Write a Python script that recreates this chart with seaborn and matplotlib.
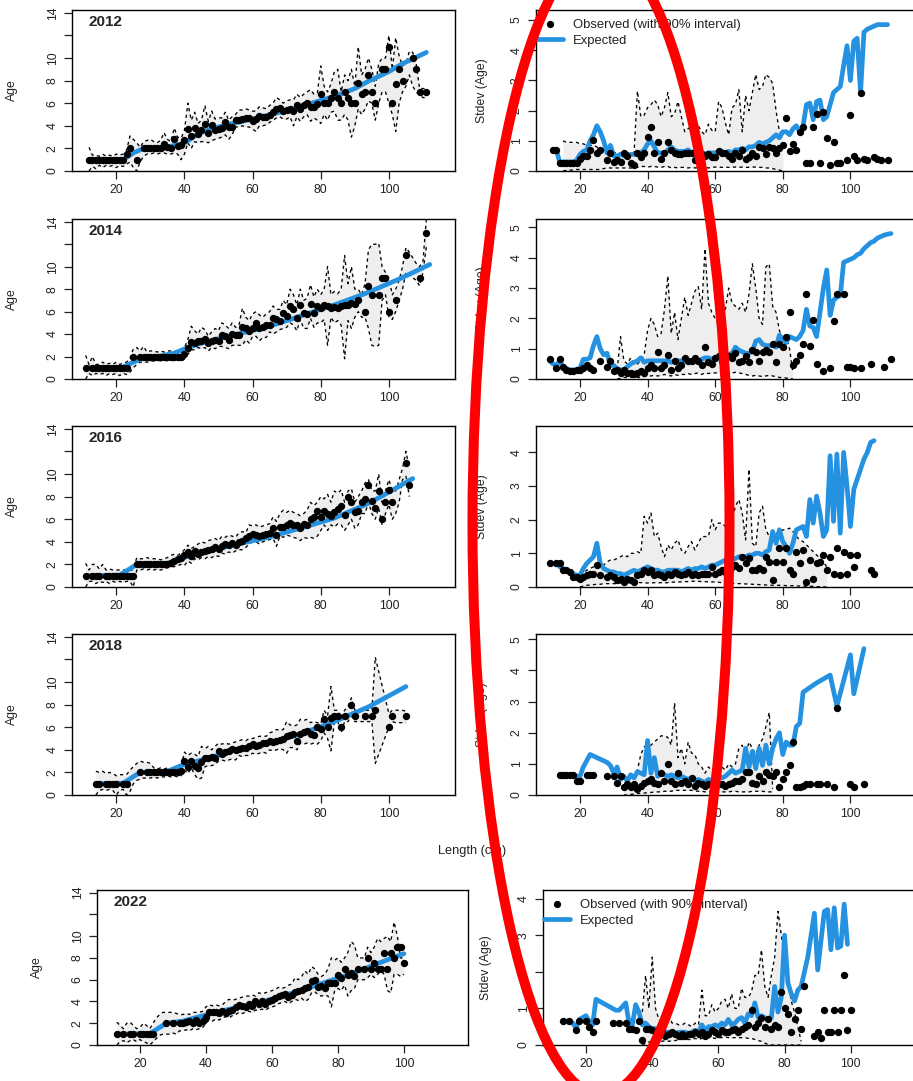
import numpy as np
import pandas as pd
import matplotlib
matplotlib.use("Agg")
import matplotlib.pyplot as plt
from matplotlib.lines import Line2D
from matplotlib.patches import Ellipse
import seaborn as sns

NA = np.nan

# ------------------------------------------------------------------ 2012
len_2012 = list(range(12, 112))
age_obs_2012 = [
    1, 1, 1, 1, 1, 1, 1, 1, 1, 1,                      # 12-21
    1, 1.5, 2, NA, 1, NA, 2, 2, 2, 2,                  # 22-31
    2, 2, 2.4, 2.1, 2, 2.8, 2.25, 2.3, 2.7, 3.7,       # 32-41
    3.1, 3.8, 3.3, 3.6, 4.2, 3.4, 4.1, 3.6, 3.7, 3.8,  # 42-51
    4.3, 3.9, 3.9, 4.5, 4.5, 4.6, 4.7, 4.7, 4.4, 4.6,  # 52-61
    4.9, 4.8, 4.8, 5.0, 5.2, 5.5, 5.6, 5.3, 5.4, 5.5,  # 62-71
    5.3, 5.8, 5.5, 5.8, 6.0, 5.7, 5.7, 5.9, 6.8, 6.0,  # 72-81
    6.0, 6.5, 7.0, 6.5, 6.0, 7.0, 6.5, 6.0, 6.0, 7.8,  # 82-91
    6.8, 7.0, 8.5, 7.0, 6.0, NA, 9.0, 9.0, 11.0, 6.0,  # 92-101
    7.7, 9.0, 8.0, NA, NA, 10.0, 9.0, 7.0, NA, 7.0,    # 102-111
]
age_lo_2012 = [
    0.0, 0.4, 0.2, 0.5, 0.3, 0.5, 0.4, 0.5, 0.3, 0.5,
    0.4, 0.6, 0.8, 0.3, 0.0, 0.8, 1.3, 1.5, 1.5, 1.6,
    1.5, 1.6, 1.6, 1.5, 1.5, 1.6, 1.5, 1.0, 1.5, 2.5,
    2.0, 2.6, 2.5, 2.6, 2.6, 2.5, 2.7, 2.8, 2.9, 3.0,
    3.2, 2.8, 3.2, 3.9, 3.9, 4.0, 3.9, 3.9, 3.7, 3.5,
    4.0, 4.0, 4.1, 4.3, 4.5, 4.7, 4.8, 4.6, 4.6, 4.8,
    4.0, 4.8, 4.4, 4.8, 5.0, 4.4, 4.7, 4.5, 4.2, 5.0,
    4.5, 5.2, 5.3, 4.5, 4.5, 5.0, 4.5, 3.0, 4.0, 5.5,
    5.0, 5.5, 6.2, 6.0, 4.5, 6.0, 7.0, 7.0, 6.0, 5.0,
    3.5, 6.0, 7.0, 7.5, 8.5, 7.5, 7.0, 6.7, 6.5, 6.5,
]
age_hi_2012 = [
    2.1, 1.4, 1.4, 1.3, 1.5, 1.3, 1.4, 1.3, 1.5, 1.4,
    1.5, 1.8, 3.1, 2.8, 2.5, 2.1, 2.6, 2.7, 2.8, 2.6,
    2.5, 2.7, 3.4, 2.8, 2.6, 3.8, 3.0, 2.9, 3.6, 6.0,
    4.5, 5.2, 4.2, 4.5, 5.8, 4.4, 5.3, 4.6, 4.7, 4.7,
    5.2, 4.5, 4.8, 5.0, 5.4, 5.4, 5.5, 5.4, 5.3, 5.3,
    5.7, 5.6, 5.5, 5.8, 6.0, 6.5, 6.3, 6.0, 6.2, 6.3,
    6.3, 6.8, 6.5, 6.8, 7.0, 7.2, 6.8, 6.9, 9.3, 7.5,
    7.0, 7.7, 8.8, 9.0, 7.0, 8.5, 8.0, 9.0, 7.5, 11.0,
    8.5, 9.0, 10.0, 9.0, 7.5, 9.5, 10.0, 10.0, 12.0, 9.0,
    11.8, 10.2, 9.3, 9.5, 10.6, 10.5, 9.5, 7.3, 7.3, 7.3,
]
age_exp_len_2012 = [12, 22, 25, 28, 32, 36, 40, 44, 48, 54, 60, 64, 70, 74, 80, 84, 90, 94, 100, 104, 111]
age_exp_2012 = [1, 1, 1.6, 2.0, 2.05, 2.2, 2.45, 3.3, 3.75, 4.2, 4.6, 4.9, 5.35, 5.7, 6.25, 6.6, 7.3, 7.95, 8.8, 9.5, 10.5]
sd_obs_2012 = [
    0.7, 0.7, 0.28, 0.25, 0.25, 0.25, 0.25, 0.25, 0.4, 0.5,
    0.5, 0.7, 1.02, 0.6, 0.7, NA, 0.35, 0.6, 0.3, 0.35,
    0.3, 0.6, 0.5, 0.25, 0.2, 0.6, 0.45, 0.6, 1.12, 1.45,
    0.6, 0.95, 0.4, 0.6, 0.95, 0.7, 0.6, 0.55, 0.55, 0.6,
    0.6, 0.6, 0.35, 0.55, 0.55, 0.5, 0.55, 0.45, 0.45, 0.65,
    0.6, 0.6, 0.5, 0.4, 0.6, 0.5, 0.7, 0.4, 0.45, 0.6,
    0.5, 0.8, 0.75, 0.55, 0.8, 0.75, 0.6, 0.75, 0.85, 1.74,
    0.65, 0.9, 0.7, 1.3, 1.45, 0.25, 0.25, 1.45, 1.88, 0.25,
    1.95, 1.1, 0.2, 0.95, 0.25, 0.25, NA, 0.35, 1.85, 0.5,
    0.35, 2.6, 0.4, 0.35, NA, 0.45, 0.4, 0.35, NA, 0.35,
]
sd_exp_2012 = [
    NA, 0.7, 0.3, 0.3, 0.3, 0.3, 0.3, 0.35, 0.55, 0.65,
    0.7, 1.0, 1.2, 1.5, 1.3, 1.0, 0.6, 0.85, 0.5, 0.5,
    0.55, 0.5, 0.5, 0.55, 0.55, 0.6, 0.6, 0.7, 0.9, 1.0,
    0.8, 0.6, 0.6, 0.55, 0.7, 0.8, 0.7, 0.65, 0.65, 0.65,
    0.7, 0.6, 0.6, 0.6, 0.6, 0.55, 0.6, 0.6, 0.6, 0.65,
    0.65, 0.6, 0.65, 0.6, 0.7, 0.7, 0.75, 0.7, 0.8, 0.8,
    0.85, 0.95, 0.9, 0.95, 1.0, 1.1, 1.2, 1.1, 1.3, 1.3,
    1.2, 1.4, 1.5, 1.3, 1.5, 2.2, 2.25, 1.7, 2.3, 2.35,
    1.7, 1.8, 2.2, 2.6, 2.7, 2.8, 3.5, 4.15, 3.0, 4.3,
    4.4, 2.6, 4.6, 4.7, 4.75, 4.8, 4.85, 4.85, 4.85, 4.85,
]
sd_band_len_2012 = list(range(15, 81))
sd_lo_2012 = [
    0.0, 0.02, 0.03, 0.03, 0.05, 0.05, 0.05, 0.05, 0.05, 0.05,
    0.05, 0.05, 0.08, 0.1, 0.1, 0.1, 0.1, 0.1, 0.1, 0.1,
    0.1, 0.1, 0.12, 0.15, 0.15, 0.13, 0.15, 0.15, 0.13, 0.12,
    0.15, 0.15, 0.1, 0.12, 0.1, 0.12, 0.12, 0.1, 0.12, 0.1,
    0.12, 0.1, 0.12, 0.1, 0.12, 0.13, 0.13, 0.12, 0.13, 0.12,
    0.13, 0.13, 0.12, 0.13, 0.12, 0.12, 0.13, 0.13, 0.12, 0.12,
    0.1, 0.1, 0.08, 0.05, 0.03, 0.0,
]
sd_hi_2012 = [
    1.0, 0.95, 0.95, 0.95, 0.95, 0.9, 0.9, 0.85, 0.85, 0.85,
    0.8, 0.7, 0.65, 0.6, 0.6, 0.6, 0.6, 0.6, 0.6, 0.6,
    0.6, 0.6, 2.65, 1.8, 1.85, 2.1, 2.2, 2.35, 2.2, 1.8,
    2.1, 2.6, 1.8, 1.9, 2.3, 1.8, 1.3, 1.4, 1.5, 1.7,
    1.5, 1.3, 1.2, 1.55, 1.35, 1.3, 2.3, 2.1, 1.6, 1.2,
    2.1, 2.2, 2.7, 1.3, 2.5, 2.0, 2.6, 3.2, 2.7, 2.8,
    3.2, 3.1, 2.9, 2.0, 1.3, 1.2,
]

# ------------------------------------------------------------------ 2014
len_2014 = list(range(11, 113))
age_obs_2014 = [
    1, NA, 1, 1, 1, 1, 1, 1, 1, 1,                     # 11-20
    1, 1, 1, NA, 2, NA, 2, 2, 2, 2,                    # 21-30
    2, 2, 2, 2, 2, 2, 2, 2, 2, 2.2,                    # 31-40
    2.8, 3.3, 3.2, 3.4, 3.4, 3.6, 3.2, 3.4, 3.5, 3.4,  # 41-50
    3.9, 3.8, 3.5, 4.0, 3.9, 3.9, 4.6, 4.5, 4.3, 4.5,  # 51-60
    5.0, 4.5, 4.6, 4.8, 4.8, 5.4, 5.3, 5.2, 5.9, 5.6,  # 61-70
    6.5, 6.2, 5.4, 6.6, 5.9, 5.8, 6.7, 5.9, 6.5, 6.3,  # 71-80
    6.6, 6.5, 6.3, 6.4, 6.3, 6.5, 6.6, 6.6, 6.8, 6.7,  # 81-90
    7.0, NA, 6.0, 8.3, 7.5, NA, 7.5, 9.0, 9.0, 6.0,    # 91-100
    NA, 7.0, NA, NA, 11.0, NA, NA, NA, 9.0, NA,        # 101-110
    13.0, NA,                                          # 111-112
]
age_lo_2014 = [
    0.0, 0.5, 0.3, 0.5, 0.4, 0.5, 0.3, 0.5, 0.4, 0.5,
    0.3, 0.5, 0.4, 0.6, 1.0, 1.3, 1.5, 1.5, 1.5, 1.6,
    1.6, 1.7, 1.6, 1.7, 1.6, 1.7, 1.6, 1.7, 1.6, 1.8,
    2.2, 2.6, 2.6, 2.8, 2.7, 2.8, 2.5, 2.8, 2.7, 2.9,
    2.9, 2.8, 2.7, 3.0, 3.0, 3.0, 3.0, 3.5, 3.2, 3.8,
    3.8, 3.4, 3.7, 3.7, 4.2, 4.0, 4.2, 4.4, 4.5, 4.6,
    5.0, 4.8, 4.3, 5.3, 4.5, 4.5, 5.4, 4.6, 5.0, 5.0,
    5.3, 3.0, 5.5, 5.0, 5.2, 4.8, 1.8, 5.2, 4.5, 5.5,
    6.0, 5.5, 5.5, 4.5, 3.0, 2.9, 3.0, 7.0, 7.5, 5.5,
    5.3, 6.0, 7.0, 8.0, 9.5, 9.3, 9.0, 8.8, 8.3, 9.5,
    11.8, NA,
]
age_hi_2014 = [
    2.1, 1.3, 2.0, 1.3, 1.3, 1.5, 1.3, 1.4, 1.3, 1.5,
    1.3, 1.4, 1.5, 1.8, 2.7, 2.8, 2.5, 2.9, 2.4, 2.5,
    2.5, 2.4, 2.5, 2.4, 2.5, 2.5, 2.5, 2.4, 2.5, 2.8,
    3.5, 4.7, 4.3, 4.0, 4.6, 4.4, 3.8, 4.2, 4.5, 4.3,
    5.0, 4.8, 4.5, 5.0, 4.6, 4.8, 6.3, 5.5, 5.2, 5.8,
    6.0, 5.7, 5.5, 5.8, 6.0, 6.5, 6.2, 6.2, 7.0, 6.6,
    8.0, 7.5, 6.6, 8.0, 7.0, 7.2, 8.4, 7.3, 8.0, 7.5,
    8.0, 10.0, 7.5, 7.8, 7.6, 8.0, 11.0, 8.5, 10.0, 8.0,
    8.0, 7.5, 8.5, 11.5, 12.0, 12.0, 12.1, 10.0, 9.5, 9.0,
    7.5, 8.0, 8.8, 10.0, 11.7, 11.3, 10.8, 10.3, 10.0, 10.5,
    14.3, NA,
]
age_exp_len_2014 = [11, 22, 25, 28, 33, 37, 41, 45, 54, 64, 74, 84, 93, 103, 112]
age_exp_2014 = [1, 1.05, 1.5, 1.9, 2.05, 2.3, 2.8, 3.2, 3.9, 4.6, 5.6, 6.6, 7.6, 8.9, 10.2]
sd_obs_2014 = [
    0.65, NA, 0.35, 0.65, 0.4, 0.3, 0.25, 0.25, 0.3, 0.3,
    0.35, 0.45, 0.35, 0.3, NA, 0.6, NA, 0.4, 0.6, 0.25,
    0.3, 0.2, 0.3, 0.2, 0.2, 0.15, 0.2, 0.25, 0.2, 0.35,
    0.45, 0.35, 0.9, 0.35, 0.45, 0.8, 0.3, 0.6, 0.35, 0.45,
    0.7, 0.6, 0.6, 0.7, 0.6, 0.45, 1.05, 0.55, 0.5, 0.7,
    0.75, 0.6, 0.7, 0.75, 0.7, 0.85, 0.55, 0.6, 0.75, 0.55,
    0.95, 0.9, 0.6, 0.9, 0.95, 0.9, 1.15, 0.55, 1.15, 1.05,
    1.4, 2.2, 0.45, 0.6, 0.8, 1.15, 2.8, 1.1, 1.95, 0.5,
    NA, 0.25, NA, 0.35, 1.9, 2.8, NA, 2.8, 0.4, 0.4,
    0.35, NA, 0.35, NA, NA, 0.5, NA, NA, NA, 0.4,
    NA, 0.65,
]
sd_exp_2014 = [
    0.6, 0.5, 0.45, 0.6, 0.4, 0.35, 0.3, 0.3, 0.3, 0.35,
    0.65, 0.65, 0.7, 1.1, 1.4, 1.0, 0.8, 0.85, 0.45, 0.45,
    0.35, 0.3, 0.3, 0.4, 0.5, 0.55, 0.6, 0.7, 0.55, 0.6,
    0.6, 0.6, 0.6, 0.6, 0.6, 0.6, 0.55, 0.6, 0.6, 0.6,
    0.6, 0.6, 0.6, 0.65, 0.6, 0.65, 0.7, 0.7, 0.65, 0.7,
    0.75, 0.75, 0.75, 0.8, 0.85, 1.05, 0.95, 0.9, 0.85, 0.85,
    0.9, 1.25, 1.3, 1.15, 1.1, 1.1, 1.1, 1.05, 1.45, 1.3,
    1.2, 1.4, 1.35, 1.3, 1.4, 1.6, 2.3, 1.75, 1.7, 1.4,
    2.2, 3.0, 3.6, 2.1, 2.6, 2.7, 2.75, 3.85, 3.9, 3.95,
    4.0, 4.1, 4.15, 4.3, 4.4, 4.5, 4.55, 4.65, 4.7, 4.75,
    4.78, 4.8,
]
sd_band_len_2014 = list(range(31, 84))
sd_lo_2014 = [
    0.0, 0.02, 0.05, 0.05, 0.05, 0.05, 0.05, 0.05, 0.08, 0.1,
    0.1, 0.12, 0.1, 0.12, 0.15, 0.12, 0.1, 0.15, 0.12, 0.15,
    0.15, 0.18, 0.15, 0.18, 0.2, 0.15, 0.2, 0.18, 0.2, 0.2,
    0.2, 0.25, 0.25, 0.2, 0.2, 0.22, 0.2, 0.18, 0.15, 0.12,
    0.1, 0.12, 0.1, 0.08, 0.1, 0.12, 0.1, 0.08, 0.05, 0.05,
    0.03, 0.02, 0.0,
]
sd_hi_2014 = [
    0.3, 1.4, 0.6, 0.5, 0.7, 0.5, 0.5, 0.6, 0.8, 1.6,
    2.0, 1.8, 1.4, 1.5, 2.3, 3.4, 1.5, 2.2, 1.3, 2.0,
    2.7, 2.1, 2.5, 2.9, 3.05, 2.3, 4.3, 2.5, 2.2, 2.0,
    1.8, 2.0, 2.3, 3.0, 2.5, 2.4, 2.3, 2.5, 2.2, 2.8,
    3.8, 3.0, 2.0, 1.8, 3.7, 3.8, 2.4, 2.2, 1.6, 1.3,
    1.4, 1.0, 0.2,
]

# ------------------------------------------------------------------ 2016
len_2016 = list(range(11, 108))
age_obs_2016 = [
    1, NA, 1, 1, 1, NA, 1, 1, 1, 1,                    # 11-20
    1, 1, 1, 1, 1, 2, 2, 2, 2, 2,                      # 21-30
    2, 2, 2, 2, 2, 2.1, 2.3, 2.5, 2.6, 2.8,            # 31-40
    3.1, 2.7, 3.2, 2.9, 3.1, 3.2, 3.3, 3.4, 3.5, 3.4,  # 41-50
    3.6, 3.8, 3.7, 3.9, 3.7, 4.0, 4.1, 4.3, 4.5, 4.7,  # 51-60
    4.6, 4.5, 4.6, 4.7, 4.8, 5.2, 4.6, 5.3, 5.3, 5.5,  # 61-70
    5.7, 5.5, 5.5, 5.2, 5.6, 5.5, 6.0, 6.2, 6.7, 6.2,  # 71-80
    6.7, 6.5, 6.3, 6.6, 6.9, 7.2, 6.4, 8.0, 7.5, 6.6,  # 81-90
    6.7, 7.5, 7.8, 9.0, 7.6, 7.0, 8.5, 6.0, 7.5, 8.6,  # 91-100
    7.5, NA, NA, NA, 11.0, 9.0, NA,                    # 101-107
]
age_lo_2016 = [
    0.0, 0.5, 0.5, 0.3, 0.5, 0.4, 0.5, 0.3, 0.5, 0.4,
    0.5, 0.4, 0.5, 0.5, 0.0, 1.5, 1.5, 1.6, 1.5, 1.6,
    1.5, 1.6, 1.5, 1.6, 1.7, 1.8, 1.8, 1.9, 2.0, 1.9,
    2.3, 2.1, 2.5, 2.4, 2.6, 2.5, 2.7, 2.6, 2.8, 2.7,
    3.0, 2.9, 3.1, 3.0, 3.2, 3.3, 3.3, 3.5, 3.8, 4.0,
    4.0, 3.8, 4.0, 4.1, 4.2, 4.3, 3.6, 4.5, 4.4, 4.6,
    4.5, 4.4, 4.3, 4.1, 4.4, 4.3, 4.4, 4.3, 4.5, 5.0,
    5.5, 5.0, 5.5, 5.3, 5.6, 5.5, 5.0, 5.5, 6.0, 5.2,
    5.5, 6.5, 6.5, 7.5, 6.5, 6.0, 7.0, 5.5, 6.5, 7.3,
    6.0, 6.5, 7.5, 9.5, 9.8, 8.0, NA,
]
age_hi_2016 = [
    2.1, 1.5, 2.0, 2.0, 1.6, 2.0, 1.5, 1.6, 1.5, 1.5,
    1.5, 1.5, 1.5, 1.5, 1.5, 2.6, 2.5, 2.5, 2.6, 2.5,
    2.5, 2.5, 2.4, 2.5, 2.6, 2.8, 2.9, 2.8, 3.0, 3.3,
    3.7, 3.4, 3.6, 3.8, 4.0, 3.9, 4.1, 4.2, 4.3, 4.1,
    4.5, 4.4, 4.6, 4.5, 4.4, 4.8, 4.9, 4.8, 5.5, 5.4,
    5.5, 5.3, 5.4, 5.5, 5.6, 6.2, 5.8, 6.5, 6.8, 6.6,
    6.8, 6.6, 6.5, 6.3, 6.5, 6.8, 7.5, 7.2, 7.5, 8.0,
    7.8, 8.2, 7.5, 8.5, 8.3, 8.6, 7.5, 8.5, 8.7, 7.5,
    8.0, 8.5, 9.2, 9.5, 8.5, 8.5, 10.0, 7.5, 8.5, 9.5,
    8.5, 8.5, 9.5, 10.5, 12.0, 10.5, NA,
]
age_exp_len_2016 = [11, 21, 26, 35, 39, 45, 54, 64, 74, 84, 94, 100, 107]
age_exp_2016 = [1, 1.05, 2.0, 2.1, 2.55, 3.0, 3.7, 4.35, 5.2, 6.1, 7.4, 8.4, 9.6]
sd_obs_2016 = [
    0.7, NA, 0.7, 0.7, 0.5, 0.5, 0.45, 0.3, 0.3, 0.25,
    0.3, 0.35, 0.4, 0.4, 0.65, 0.35, NA, 0.3, 0.35, 0.3,
    0.2, 0.25, 0.15, 0.25, 0.2, 0.15, 0.35, 0.4, 0.5, 0.45,
    0.5, 0.35, 0.4, 0.35, 0.3, 0.4, 0.35, 0.45, 0.4, 0.35,
    0.4, 0.45, 0.35, 0.4, 0.35, 0.4, 0.4, 0.4, 0.6, 0.4,
    0.45, 0.5, 0.45, 0.45, 0.6, 0.65, 0.55, 0.9, 0.7, 0.85,
    0.5, 0.5, 0.55, 0.5, 0.9, 0.75, 0.2, 0.75, 1.15, 0.75,
    1.15, 0.5, 0.4, 1.05, 0.7, 1.1, 0.15, 0.8, 0.25, 0.7,
    0.75, 0.95, 0.5, 0.9, 0.4, 1.15, 0.35, 1.05, 0.4, 0.95,
    0.6, 0.95, NA, NA, NA, 0.5, 0.4,
]
sd_exp_2016 = [
    NA, NA, NA, 0.6, 0.55, 0.5, 0.45, 0.4, 0.35, 0.35,
    0.55, 0.7, 0.8, 0.9, 1.3, 0.7, 0.55, 0.5, 0.45, 0.45,
    0.4, 0.4, 0.35, 0.4, 0.45, 0.5, 0.45, 0.5, 0.55, 0.6,
    0.55, 0.5, 0.5, 0.45, 0.45, 0.5, 0.5, 0.5, 0.5, 0.45,
    0.5, 0.55, 0.5, 0.55, 0.55, 0.6, 0.55, 0.6, 0.65, 0.65,
    0.7, 0.75, 0.8, 0.8, 0.8, 0.85, 0.9, 0.9, 0.9, 0.95,
    0.95, 1.0, 1.0, 0.95, 1.05, 1.1, 1.65, 1.3, 1.7, 1.35,
    1.2, 1.0, 1.3, 1.7, 1.75, 1.8, 1.5, 2.6, 1.9, 2.7,
    2.2, 1.5, 1.7, 3.9, 1.95, 3.95, 1.6, 4.0, 3.0, 1.8,
    2.9, 3.2, 3.5, 3.8, 4.0, 4.3, 4.35,
]
sd_band_len_2016 = list(range(20, 94))
sd_lo_2016 = [
    0.0, 0.03, 0.05, 0.06, 0.07, 0.08, 0.08, 0.1, 0.1, 0.1,
    0.1, 0.1, 0.12, 0.12, 0.12, 0.13, 0.14, 0.14, 0.13, 0.12,
    0.12, 0.12, 0.13, 0.12, 0.13, 0.12, 0.13, 0.14, 0.15, 0.15,
    0.15, 0.16, 0.16, 0.17, 0.17, 0.17, 0.16, 0.16, 0.15, 0.15,
    0.15, 0.14, 0.13, 0.12, 0.12, 0.11, 0.1, 0.1, 0.1, 0.09,
    0.09, 0.08, 0.08, 0.07, 0.07, 0.06, 0.06, 0.05, 0.05, 0.05,
    0.05, 0.04, 0.04, 0.04, 0.03, 0.03, 0.03, 0.02, 0.02, 0.02,
    0.01, 0.01, 0.0, 0.0,
]
sd_hi_2016 = [
    0.35, 0.4, 0.5, 0.55, 0.6, 0.65, 0.6, 0.65, 0.75, 0.8,
    0.8, 0.85, 0.9, 0.95, 0.9, 1.0, 1.0, 1.05, 1.0, 2.1,
    1.9, 2.2, 1.5, 1.6, 1.2, 0.9, 1.25, 1.1, 1.3, 1.4,
    1.1, 1.0, 1.2, 1.35, 1.1, 1.3, 1.5, 1.5, 1.5, 2.0,
    1.7, 1.9, 1.9, 1.8, 1.6, 2.0, 2.4, 2.6, 2.2, 1.4,
    3.5, 1.3, 1.2, 2.2, 2.4, 1.7, 1.5, 1.5, 1.6, 1.6,
    1.7, 1.7, 1.75, 1.65, 1.5, 1.4, 1.35, 1.25, 1.15, 1.05,
    0.95, 0.85, 0.75, 0.6,
]

# ------------------------------------------------------------------ 2018
len_2018 = list(range(14, 106))
age_obs_2018 = [
    1, 1, NA, 1, 1, 1, 1, NA, 1, 1,                    # 14-23
    NA, NA, NA, 2, NA, 2, 2, 2, 2, 2,                  # 24-33
    2, 2, 2, 2, 2, 2.1, 3.0, 2.5, 3.0, 2.6,            # 34-43
    2.4, 2.9, 3.3, 3.3, 3.4, 3.3, 3.9, 3.6, 3.8, 3.9,  # 44-53
    4.1, 4.0, 4.1, 4.2, 4.2, 4.3, 4.5, 4.3, 4.4, 4.6,  # 54-63
    4.6, 4.8, 4.7, 4.8, 4.9, 5.0, 5.2, 5.3, 5.4, 4.8,  # 64-73
    5.4, 5.6, 5.7, 5.4, 5.3, 6.0, 5.8, 6.7, 6.0, 6.8,  # 74-83
    7.0, 7.0, 6.0, 7.0, NA, 8.0, 7.0, NA, NA, 7.0,     # 84-93
    NA, 7.0, 7.5, NA, NA, NA, 6.0, 7.0, NA, NA,        # 94-103
    NA, 7.0,                                           # 104-105
]
age_lo_2018 = [
    0.0, 0.4, 0.5, 0.4, 0.5, 0.4, 0.0, 0.4, 0.5, 0.0,
    0.3, 1.0, 1.3, 1.4, 1.5, 1.5, 1.5, 1.6, 1.5, 1.6,
    1.6, 1.7, 1.6, 1.7, 1.6, 1.7, 2.2, 1.9, 2.4, 1.8,
    1.4, 1.5, 2.5, 2.6, 2.6, 2.7, 3.0, 3.1, 3.0, 3.1,
    3.2, 3.1, 3.5, 3.4, 3.5, 3.5, 3.7, 3.6, 3.7, 3.8,
    3.7, 4.0, 3.9, 4.0, 4.1, 4.0, 3.7, 4.2, 4.2, 4.0,
    4.6, 4.5, 4.6, 4.5, 4.6, 4.5, 4.8, 5.5, 5.0, 3.9,
    6.5, 6.5, 5.5, 6.5, 6.5, 7.0, 6.5, 6.5, 6.5, 6.5,
    6.5, 6.5, 2.8, NA, NA, NA, 6.0, 6.5, 6.4, 6.4,
    6.4, 6.4,
]
age_hi_2018 = [
    2.1, 2.0, 2.1, 1.9, 2.0, 1.9, 1.7, 1.8, 1.8, 1.8,
    2.2, 2.5, 2.8, 3.0, 2.9, 2.9, 2.8, 2.4, 2.3, 2.4,
    2.3, 2.4, 2.3, 2.4, 2.3, 2.5, 3.8, 3.5, 3.7, 3.6,
    3.4, 4.3, 4.1, 4.3, 4.0, 4.3, 4.6, 4.5, 4.6, 4.5,
    4.6, 4.7, 4.8, 4.9, 4.8, 5.0, 5.0, 5.1, 5.2, 5.2,
    5.2, 5.5, 5.6, 5.8, 5.7, 5.8, 6.5, 6.2, 6.1, 6.2,
    6.7, 6.6, 6.7, 6.4, 6.5, 6.4, 6.3, 7.5, 7.0, 9.6,
    7.5, 7.5, 6.8, 7.5, 7.8, 8.6, 7.5, 7.5, 7.5, 7.5,
    7.5, 7.5, 12.2, NA, NA, NA, 7.2, 7.5, 7.5, 7.5,
    7.5, 7.4,
]
age_exp_len_2018 = [14, 22, 27, 35, 39, 45, 54, 64, 74, 84, 94, 105]
age_exp_2018 = [1, 1.05, 2.0, 2.1, 2.6, 3.1, 3.9, 4.5, 5.4, 6.5, 7.8, 9.6]
sd_obs_2018 = [
    0.65, 0.65, 0.65, 0.65, 0.65, 0.45, 0.45, NA, 0.65, 0.65,
    0.65, NA, NA, NA, 0.6, NA, 0.6, 0.4, 0.6, 0.25,
    0.35, 0.25, 0.35, 0.2, 0.3, 0.4, 0.45, 0.5, 0.4, 0.35,
    0.7, 0.45, 1.0, 0.45, 0.35, 0.7, 0.4, 0.45, 0.35, 0.55,
    0.3, 0.4, 0.35, 0.3, 0.35, 0.35, 0.4, 0.35, 0.35, 0.3,
    0.35, 0.4, 0.45, 0.45, 0.5, 0.75, 0.75, 0.4, 0.35, 0.6,
    0.45, 0.75, 0.65, 0.6, 0.75, 0.25, 0.5, 0.75, 0.95, 1.7,
    0.25, 0.25, 0.3, 0.35, 0.35, NA, 0.35, 0.35, NA, 0.35,
    NA, 0.25, 2.8, NA, NA, NA, 0.35, 0.25, NA, NA,
    0.35, NA,
]
sd_exp_2018 = [
    0.65, 0.65, 0.65, 0.65, 0.65, 0.6, 0.6, 0.9, 1.1, 1.3,
    1.25, 1.2, 1.15, 1.1, 1.05, 0.95, 0.7, 0.9, 0.5, 0.6,
    0.45, 0.65, 0.55, 0.75, 0.7, 0.65, 1.75, 0.7, 1.2, 0.6,
    0.7, 0.65, 0.6, 0.65, 0.6, 0.55, 0.6, 0.55, 0.5, 0.55,
    0.45, 0.5, 0.45, 0.4, 0.5, 0.45, 0.5, 0.6, 0.55, 0.6,
    0.7, 0.8, 0.7, 0.75, 0.8, 1.5, 0.9, 1.4, 0.85, 1.5,
    0.95, 1.6, 1.0, 1.5, 1.8, 2.0, 1.3, 1.7, 1.6, 1.6,
    2.2, 2.3, 3.3, NA, NA, NA, 3.6, NA, NA, NA,
    3.85, NA, 2.85, NA, NA, NA, 4.5, 3.25, NA, NA,
    4.7, NA,
]
sd_band_len_2018 = list(range(33, 78))
sd_lo_2018 = [
    0.0, 0.0, 0.02, 0.03, 0.05, 0.05, 0.06, 0.08, 0.08, 0.1,
    0.1, 0.1, 0.12, 0.12, 0.12, 0.15, 0.15, 0.15, 0.15, 0.15,
    0.15, 0.13, 0.12, 0.12, 0.1, 0.1, 0.1, 0.1, 0.1, 0.1,
    0.1, 0.1, 0.12, 0.12, 0.1, 0.1, 0.1, 0.1, 0.12, 0.12,
    0.12, 0.12, 0.1, 0.1, 0.1,
]
sd_hi_2018 = [
    0.3, 0.4, 0.6, 0.6, 0.8, 1.3, 1.55, 1.55, 1.6, 1.7,
    1.8, 1.9, 1.9, 1.85, 1.6, 2.95, 1.2, 1.5, 1.0, 1.7,
    1.35, 1.3, 1.0, 0.9, 0.7, 0.9, 0.8, 0.9, 1.0, 0.9,
    0.8, 1.0, 0.9, 1.0, 1.5, 1.6, 1.3, 1.7, 1.5, 1.3,
    1.6, 1.8, 2.2, 2.65, 0.2,
]

# ------------------------------------------------------------------ 2022
len_2022 = list(range(13, 101))
age_obs_2022 = [
    1, NA, 1, NA, 1, 1, NA, 1, 1, 1,                   # 13-22
    1, 1, NA, NA, NA, 2, NA, 2, NA, 2,                 # 23-32
    2, 2.1, 2.2, 2.0, 2.3, 2.0, 2.2, 2.6, 3.0, 3.0,    # 33-42
    3.0, 2.9, 3.1, 2.9, 3.1, 3.2, 3.5, 3.7, 3.6, 3.5,  # 43-52
    3.8, 3.6, 4.0, 3.8, 4.0, 3.8, 4.0, 4.1, 4.3, 4.5,  # 53-62
    4.6, 4.7, 4.4, 4.6, 4.9, 5.0, 5.1, 5.2, 5.3, 5.9,  # 63-72
    6.0, 5.3, 5.4, 5.2, 5.7, 5.7, 5.7, 6.4, 6.2, 7.0,  # 73-82
    6.4, 6.6, 6.3, 7.0, NA, 7.0, 8.0, 7.0, 7.5, 7.0,   # 83-92
    7.0, 8.5, 7.0, 8.5, 8.0, 9.0, 9.0, 7.5,            # 93-100
]
age_lo_2022 = [
    0.0, 0.3, 0.4, 0.2, 0.4, 0.5, 0.3, 0.5, 0.3, 0.2,
    0.0, 0.3, 0.6, 0.9, 1.0, 1.0, 1.0, 1.1, 1.0, 1.3,
    1.3, 1.4, 1.3, 1.5, 1.4, 1.5, 1.6, 2.0, 2.3, 2.2,
    2.4, 2.3, 2.5, 2.6, 2.5, 2.7, 2.8, 3.0, 2.9, 3.0,
    3.1, 3.0, 3.2, 3.2, 3.3, 3.2, 3.4, 3.5, 3.6, 3.8,
    3.9, 4.0, 3.8, 4.0, 4.2, 4.1, 4.3, 4.0, 4.2, 4.8,
    4.9, 4.6, 4.5, 4.6, 4.5, 3.5, 5.0, 5.2, 5.0, 5.5,
    4.5, 5.0, 5.2, 6.0, 6.0, 6.0, 6.2, 6.5, 6.2, 6.5,
    6.8, 6.5, 5.0, 4.8, 6.5, 6.5, 6.3, 6.5,
]
age_hi_2022 = [
    2.1, 1.8, 1.5, 2.0, 2.1, 1.8, 1.5, 1.6, 2.0, 1.8,
    1.5, 2.0, 2.5, 2.8, 3.0, 3.0, 3.0, 3.0, 2.9, 2.8,
    2.8, 2.9, 2.8, 3.0, 3.0, 3.0, 3.1, 3.5, 3.7, 3.6,
    3.7, 3.6, 3.7, 4.0, 4.2, 4.1, 4.2, 4.3, 4.4, 4.5,
    4.5, 4.6, 4.5, 4.8, 4.7, 4.8, 4.9, 5.0, 5.1, 5.3,
    5.2, 5.3, 5.5, 5.6, 6.2, 6.0, 6.3, 6.8, 6.5, 7.2,
    7.0, 6.5, 6.3, 6.5, 7.0, 8.0, 7.8, 8.0, 7.6, 8.0,
    8.5, 9.5, 9.2, 8.0, 8.0, 8.0, 9.0, 8.5, 9.0, 9.8,
    9.5, 9.8, 10.0, 9.5, 11.3, 10.0, 8.0, 8.0,
]
age_exp_len_2022 = [13, 23, 28, 33, 38, 43, 48, 53, 58, 63, 68, 73, 78, 83, 88, 93, 100]
age_exp_2022 = [1, 1.05, 2.0, 2.2, 2.6, 3.0, 3.35, 3.7, 4.05, 4.5, 4.95, 5.45, 5.95, 6.45, 7.0, 7.6, 8.4]
sd_obs_2022 = [
    0.65, NA, 0.65, NA, 0.4, 0.65, NA, 0.65, 0.5, 0.35,
    0.65, NA, NA, NA, NA, 0.6, NA, 0.6, NA, 0.6,
    0.45, 0.45, 0.4, 0.65, 0.15, 0.45, 0.45, 0.4, 0.35, 0.3,
    0.35, 0.25, 0.3, 0.35, 0.3, 0.25, 0.3, 0.25, 0.3, 0.3,
    0.35, 0.3, 0.35, 0.25, 0.3, 0.4, 0.35, 0.3, 0.4, 0.35,
    0.35, 0.4, 0.45, 0.35, 0.45, 0.5, 0.55, 0.95, 0.5, 0.6,
    0.75, 0.5, 0.7, 0.45, 0.55, 0.5, 1.45, 1.0, 0.85, 0.35,
    0.7, 0.95, 0.45, 1.6, NA, NA, 0.25, 0.35, 0.2, 0.95,
    0.35, 0.35, 0.95, 0.35, 0.95, 1.9, 0.4, 0.95,
]
sd_exp_2022 = [
    0.65, 0.65, 0.65, 0.6, 0.45, 0.7, 0.75, 0.8, 0.65, 0.55,
    1.25, 1.2, 1.15, 1.1, 1.05, 1.0, 0.95, 0.95, 1.05, 1.15,
    0.6, 0.55, 1.1, 0.9, 0.55, 0.6, 0.5, 0.45, 0.45, 0.4,
    0.4, 0.35, 0.35, 0.35, 0.3, 0.35, 0.35, 0.35, 0.3, 0.35,
    0.4, 0.35, 0.55, 0.4, 0.5, 0.5, 0.55, 0.5, 0.6, 0.55,
    0.7, 0.55, 0.6, 0.7, 0.75, 0.6, 0.85, 0.8, 1.15, 0.75,
    0.8, 0.75, 0.7, 0.75, 1.6, 0.9, 1.3, 3.0, 1.7, 1.4,
    1.2, 1.5, 1.6, 2.0, 2.4, NA, 3.6, 2.05, NA, 3.65,
    3.7, 2.6, 3.75, 2.65, 2.7, 3.85, 2.75, NA,
]
sd_band_len_2022 = list(range(37, 86))
sd_lo_2022 = [
    0.0, 0.05, 0.08, 0.1, 0.1, 0.12, 0.1, 0.12, 0.1, 0.12,
    0.12, 0.15, 0.15, 0.15, 0.15, 0.15, 0.18, 0.15, 0.18, 0.2,
    0.2, 0.2, 0.18, 0.2, 0.2, 0.22, 0.2, 0.2, 0.2, 0.2,
    0.2, 0.2, 0.18, 0.18, 0.15, 0.12, 0.1, 0.05, 0.02, 0.0,
    0.0, 0.0, 0.0, 0.0, 0.0, 0.0, 0.0, 0.0, 0.0,
]
sd_hi_2022 = [
    0.9, 1.9, 1.0, 2.4, 1.0, 0.7, 0.6, 0.5, 0.8, 0.6,
    0.6, 0.55, 0.55, 0.6, 0.55, 0.5, 0.6, 0.55, 1.5, 0.8,
    0.8, 1.1, 0.9, 1.0, 1.2, 1.25, 1.0, 1.4, 1.0, 1.0,
    1.55, 1.3, 1.3, 1.45, 1.9, 1.9, 2.6, 1.6, 1.3, 1.9,
    2.4, 3.65, 3.0, 2.4, 1.8, 1.2, 0.9, 0.5, 0.1,
]

years = ["2012", "2014", "2016", "2018", "2022"]
age_tick_values = [0, 2, 4, 6, 8, 10, 12, 14]
age_tick_labels = ["0", "2", "4", "6", "8", "10", "", "14"]
length_ticks = [20, 40, 60, 80, 100]
legend_labels = ["Observed (with 90% interval)", "Expected"]

# ------------------------------------------------------------------ style
sns.set_style("ticks")
plt.rcParams["font.family"] = ["Liberation Sans", "DejaVu Sans"]

BLUE = "#2592E1"
BAND = "#EEEEEE"
DASH = (0, (2.5, 2.5))
FS = 8.8
INK = "#222222"

W, H = 913, 1081
fig = plt.figure(figsize=(W / 100, H / 100), dpi=100)


def px_axes(x0, y0, x1, y1):
    return fig.add_axes([x0 / W, 1 - y1 / H, (x1 - x0) / W, (y1 - y0) / H])


def draw_band(ax, L, lo, hi):
    df = pd.DataFrame({"len": L, "lo": lo, "hi": hi})
    both = df.dropna()
    ax.fill_between(both["len"], both["lo"], both["hi"], color=BAND, lw=0, zorder=1)
    for col in ("lo", "hi"):
        d = df[["len", col]].dropna()
        sns.lineplot(data=d, x="len", y=col, ax=ax, color="black", lw=0.95,
                     linestyle=DASH, estimator=None, sort=True, zorder=2)


def draw_expected(ax, L, vals):
    d = pd.DataFrame({"len": L, "v": vals}).dropna()
    sns.lineplot(data=d, x="len", y="v", ax=ax, color=BLUE, lw=3.4,
                 estimator=None, sort=True, zorder=3)


def draw_points(ax, L, vals):
    d = pd.DataFrame({"len": L, "v": vals}).dropna()
    sns.scatterplot(data=d, x="len", y="v", ax=ax, color="black", s=28,
                    linewidth=0, zorder=4)


def finish(ax, ylim, yticks, ylabels, ylab, ylab_x):
    ax.set_xlim(7, 119.4)
    ax.set_ylim(*ylim)
    ax.set_xticks(length_ticks)
    ax.set_xticklabels([str(t) for t in length_ticks])
    ax.set_yticks(yticks)
    ax.set_yticklabels(ylabels, rotation=90, va="center")
    ax.tick_params(direction="out", length=5.5, width=0.9, labelsize=FS,
                   pad=4, color=INK, labelcolor=INK)
    ax.set_xlabel("")
    ax.set_ylabel(ylab, fontsize=FS, color=INK)
    ax.yaxis.set_label_coords(ylab_x, 0.5)
    for s in ax.spines.values():
        s.set_visible(True)
        s.set_linewidth(1.0)
        s.set_color("black")


def add_legend(ax, top_frac):
    handles = [
        Line2D([], [], marker="o", color="black", ls="none", markersize=4.2),
        Line2D([], [], color=BLUE, lw=3.4),
    ]
    ax.legend(handles, legend_labels, loc="upper left",
              bbox_to_anchor=(0.0, top_frac), frameon=False, fontsize=9.4,
              handlelength=2.0, handletextpad=0.75, labelspacing=0.25,
              borderaxespad=0.0, borderpad=0.1, labelcolor=INK)


panel_data = {
    "2012": (len_2012, age_obs_2012, age_lo_2012, age_hi_2012, age_exp_len_2012, age_exp_2012,
             sd_obs_2012, sd_exp_2012, sd_band_len_2012, sd_lo_2012, sd_hi_2012),
    "2014": (len_2014, age_obs_2014, age_lo_2014, age_hi_2014, age_exp_len_2014, age_exp_2014,
             sd_obs_2014, sd_exp_2014, sd_band_len_2014, sd_lo_2014, sd_hi_2014),
    "2016": (len_2016, age_obs_2016, age_lo_2016, age_hi_2016, age_exp_len_2016, age_exp_2016,
             sd_obs_2016, sd_exp_2016, sd_band_len_2016, sd_lo_2016, sd_hi_2016),
    "2018": (len_2018, age_obs_2018, age_lo_2018, age_hi_2018, age_exp_len_2018, age_exp_2018,
             sd_obs_2018, sd_exp_2018, sd_band_len_2018, sd_lo_2018, sd_hi_2018),
    "2022": (len_2022, age_obs_2022, age_lo_2022, age_hi_2022, age_exp_len_2022, age_exp_2022,
             sd_obs_2022, sd_exp_2022, sd_band_len_2022, sd_lo_2022, sd_hi_2022),
}

# pixel boxes (x0, y0, x1, y1) for the age and stdev panels of each row
row_boxes = {
    "2012": ((72, 10, 455, 171), (536, 10, 916, 171)),
    "2014": ((72, 219, 455, 379), (536, 219, 916, 379)),
    "2016": ((72, 426, 455, 587), (536, 426, 916, 587)),
    "2018": ((72, 634, 455, 795), (536, 634, 916, 795)),
    "2022": ((97, 890, 468, 1045), (543, 890, 915, 1045)),
}

for yr in years:
    (L, a_obs, a_lo, a_hi, e_len, e_val, s_obs, s_exp, b_len, s_lo, s_hi) = panel_data[yr]
    lbox, rbox = row_boxes[yr]

    # age-at-length panel
    axl = px_axes(*lbox)
    draw_band(axl, L, a_lo, a_hi)
    draw_expected(axl, e_len, e_val)
    draw_points(axl, L, a_obs)
    lw_px = lbox[2] - lbox[0]
    lh_px = lbox[3] - lbox[1]
    finish(axl, (0, 14.25), age_tick_values, age_tick_labels, "Age",
           -(lbox[0] - (43 if yr == "2022" else 18)) / lw_px)
    axl.text(16 / lw_px, 1 - 12 / lh_px, yr, transform=axl.transAxes,
             fontsize=11, fontweight="bold", ha="left", va="center")

    # stdev-of-age panel
    axr = px_axes(*rbox)
    draw_band(axr, b_len, s_lo, s_hi)
    draw_expected(axr, L, s_exp)
    draw_points(axr, L, s_obs)
    ytop = 1.1 * np.nanmax(s_exp)
    rticks = [t for t in range(0, 6) if t <= ytop]
    rw_px = rbox[2] - rbox[0]
    rh_px = rbox[3] - rbox[1]
    finish(axr, (0, ytop), rticks, [str(t) for t in rticks], "Stdev (Age)",
           -(rbox[0] - (492 if yr == "2022" else 488)) / rw_px)
    if yr in ("2012", "2022"):
        add_legend(axr, 1 - 8 / rh_px)

fig.text(472 / W, 1 - 851 / H, "Length (cm)", ha="center", va="center",
         fontsize=9.2, color=INK)

# red ring drawn over the middle of the figure
ring = Ellipse((601 / W, 1 - 523 / H), 257 / W, 1144 / H, transform=fig.transFigure,
               fill=False, edgecolor="#FF0000", lw=7.2, zorder=100)
fig.add_artist(ring)

fig.savefig("out.png", dpi=100)
